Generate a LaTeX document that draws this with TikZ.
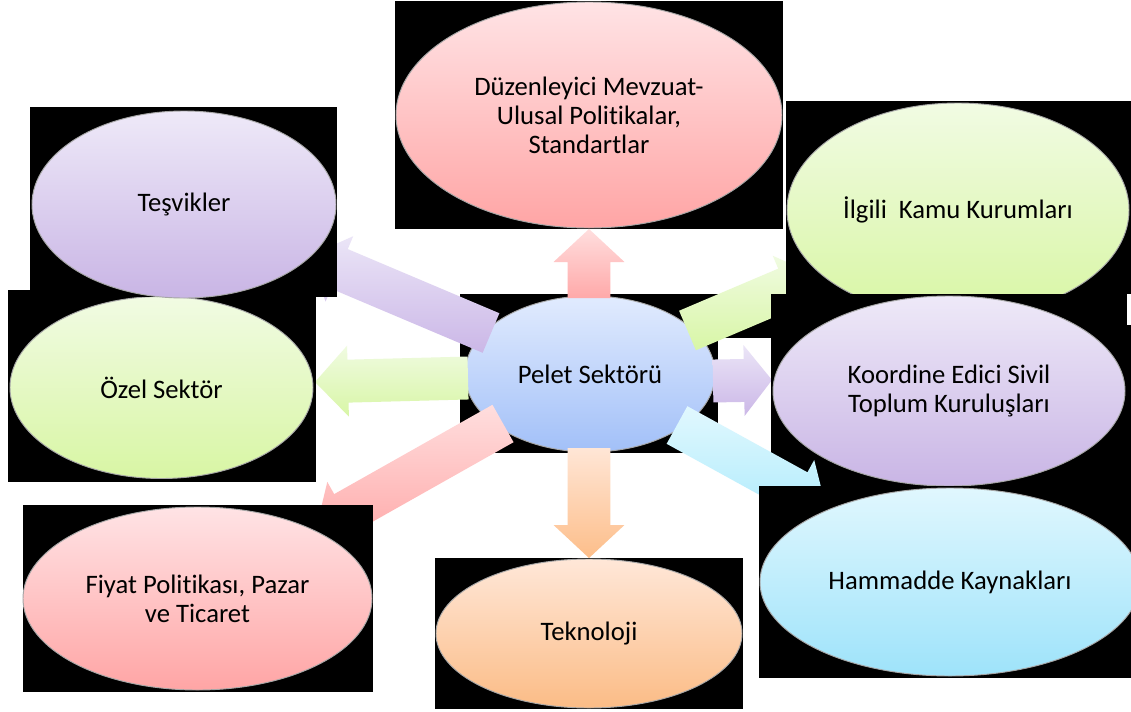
\documentclass[tikz,border=0pt]{standalone}
\usepackage{fontspec}
\setmainfont{Carlito}[RawFeature={-liga}]
\usetikzlibrary{shapes.geometric,calc}

\definecolor{pinkT}{HTML}{FFE3E5}
\definecolor{pinkB}{HTML}{FFA5A5}
\definecolor{purT}{HTML}{EEE9F8}
\definecolor{purB}{HTML}{C9B5E5}
\definecolor{grnT}{HTML}{F1FBE3}
\definecolor{grnB}{HTML}{D8F6A4}
\definecolor{bluT}{HTML}{E1EBFE}
\definecolor{bluB}{HTML}{A2C0F8}
\definecolor{cyaT}{HTML}{E0F7FE}
\definecolor{cyaB}{HTML}{9EE3FA}
\definecolor{pchT}{HTML}{FFE7D8}
\definecolor{pchB}{HTML}{FBBC86}
% arrow colours
\definecolor{apinkT}{HTML}{FFDEDE}
\definecolor{apinkB}{HTML}{FFA9A9}
\definecolor{apurT}{HTML}{EBE5F7}
\definecolor{apurB}{HTML}{CBB7E7}
\definecolor{agrnT}{HTML}{F0FBE1}
\definecolor{agrnB}{HTML}{D8F6A6}
\definecolor{acyaT}{HTML}{E1F8FE}
\definecolor{acyaB}{HTML}{AEEBFC}
\definecolor{apchT}{HTML}{FFE6D6}
\definecolor{apchB}{HTML}{FDBE8A}

\tikzset{
  bgbox/.style={fill=black},
  ell/.style 2 args={ellipse, minimum width=#1*0.75pt, minimum height=#2*0.75pt,
    inner sep=0pt, draw=black!35, line width=0.7pt, align=center,
    font=\fontsize{20}{21.75}\selectfont, text=black},
  pinkfill/.style={top color=pinkT, bottom color=pinkB},
  purfill/.style={top color=purT, bottom color=purB},
  grnfill/.style={top color=grnT, bottom color=grnB},
  blufill/.style={top color=bluT, bottom color=bluB},
  cyafill/.style={top color=cyaT, bottom color=cyaB},
  pchfill/.style={top color=pchT, bottom color=pchB}
}

% block arrow: #1 tail, #2 tip, #3 top colour, #4 bottom colour, #5 head length
\newcommand\blockarr[5]{%
  \coordinate (hb) at ($(#2)!#5!(#1)$);
  \shade[top color=#3, bottom color=#4]
    ($(#1)!16.1pt!90:(#2)$) -- ($(hb)!16.1pt!-90:(#1)$) -- ($(hb)!26.6pt!-90:(#1)$)
    -- (#2) -- ($(hb)!26.6pt!90:(#1)$) -- ($(hb)!16.1pt!90:(#1)$)
    -- ($(#1)!16.1pt!-90:(#2)$) -- cycle;
}

\begin{document}
\begin{tikzpicture}[x=0.75pt,y=-0.75pt]
\useasboundingbox (0,0) rectangle (1131,711);
\fill[white] (0,0) rectangle (1131,711);

% centre
\path[bgbox] (460,294) rectangle (718,453);
\path[bgbox] (718,294) rectangle (771,338);
\node[ell={250}{156}, blufill] (pel) at (590,374) {Pelet Sektörü};

% arrow end points
\coordinate (a1) at (589,298);   \coordinate (b1) at (589,229);
\coordinate (a2) at (491,333);   \coordinate (b2) at (309,256);
\coordinate (a3) at (687.5,330.5); \coordinate (b3) at (817,275.5);
\coordinate (a4) at (468,378);   \coordinate (b4) at (315,382);
\coordinate (a5) at (503,423.5); \coordinate (b5) at (316,529);
\coordinate (a6) at (589,448);   \coordinate (b6) at (589,558);
\coordinate (a7) at (713,381);   \coordinate (b7) at (772,380);
\coordinate (a8) at (677,425);   \coordinate (b8) at (826,507);

\blockarr{a1}{b1}{apinkT}{apinkB}{24.75pt}
\blockarr{a2}{b2}{apurT}{apurB}{24.75pt}
\blockarr{a3}{b3}{agrnT}{agrnB}{24.75pt}
\blockarr{a4}{b4}{agrnT}{agrnB}{24.75pt}
\blockarr{a5}{b5}{apinkT}{apinkB}{24.75pt}
\blockarr{a6}{b6}{apchT}{apchB}{24.75pt}
\blockarr{a7}{b7}{apurT}{apurB}{21pt}

% Özel Sektör
\path[bgbox] (8,290) rectangle (316,482);
\node[ell={303}{182}, grnfill] (ozel) at (161.5,387.5) {Özel Sektör};

% Teşvikler
\path[bgbox] (30,107) rectangle (337,297);
\node[ell={304}{187}, purfill] (tes) at (184,204.5) {Teşvikler};

% Fiyat
\path[bgbox] (23,505) rectangle (373,692);
\node[ell={349}{183}, pinkfill] (fiy) at (197.5,598.5) {Fiyat Politikası, Pazar\\ve Ticaret};

% Teknoloji
\path[bgbox] (435,558) rectangle (743,709);
\node[ell={306}{149}, pchfill] (tek) at (589,633.5) {Teknoloji};

% Düzenleyici
\path[bgbox] (395,1) rectangle (783,229);
\node[ell={386}{226}, pinkfill] (duz) at (589,115) {Düzenleyici Mevzuat-\\Ulusal Politikalar,\\Standartlar};

% İlgili Kamu Kurumları
\path[bgbox] (786,101) rectangle (1131,294);
\node[ell={342}{214}, grnfill] (ilg) at (958,210) {İlgili~ Kamu Kurumları};

% Koordine
\path[bgbox] (771,294) rectangle (1127,487);
\path[bgbox] (1127,325) rectangle (1131,487);
\node[ell={352}{190}, purfill] (koo) at (949,391) {Koordine Edici Sivil\\Toplum Kuruluşları};

% arrow to Hammadde lies over the Koordine box
\blockarr{a8}{b8}{acyaT}{acyaB}{24.75pt}

% Hammadde
\path[bgbox] (759,486) rectangle (1131,678);
\begin{scope}
\clip (0,0) rectangle (1131,711);
\node[ell={380}{188}, cyafill] (ham) at (950,582) {Hammadde Kaynakları};
\end{scope}
\end{tikzpicture}
\end{document}
